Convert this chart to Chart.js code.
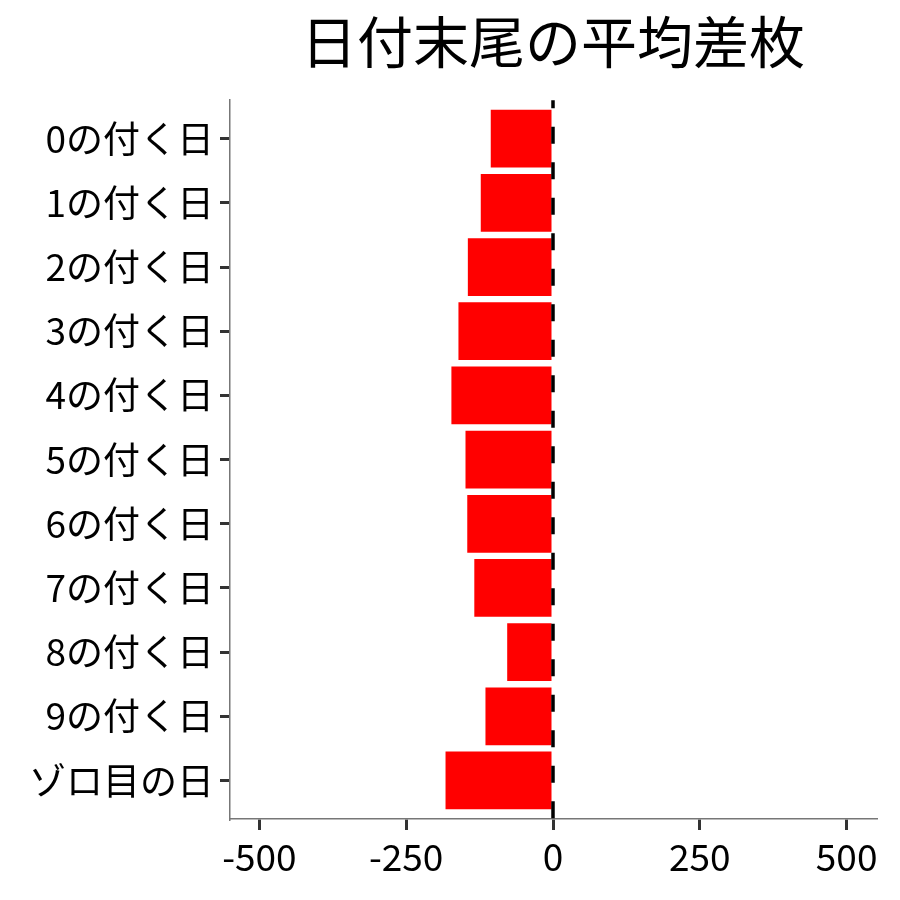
<!DOCTYPE html>
<html>
<head>
<meta charset="utf-8">
<script src="https://cdn.jsdelivr.net/npm/chart.js@4"></script>
<style>
html,body{margin:0;padding:0;background:#fff;}
#wrap{width:900px;height:900px;}
</style>
</head>
<body>
<div id="wrap"><canvas id="c" width="900" height="900"></canvas></div>
<script>
const categories = ["0の付く日","1の付く日","2の付く日","3の付く日","4の付く日","5の付く日","6の付く日","7の付く日","8の付く日","9の付く日","ゾロ目の日"];
const values = [-106, -123, -145, -161, -173, -149, -146, -134, -78, -115, -183];
const xTicks = [-500, -250, 0, 250, 500];
const titleText = "日付末尾の平均差枚";

const FONT = "'Noto Sans CJK JP', 'Noto Sans', sans-serif";

const zeroLine = {
  id: 'zeroLine',
  afterDatasetsDraw(chart) {
    const {ctx, chartArea} = chart;
    const x = chart.scales.x.getPixelForValue(0);
    ctx.save();
    ctx.beginPath();
    ctx.strokeStyle = '#000';
    ctx.lineWidth = 3.5;
    ctx.setLineDash([17, 18.5]);
    ctx.lineDashOffset = 9;
    ctx.moveTo(x, chartArea.top);
    ctx.lineTo(x, chartArea.bottom);
    ctx.stroke();
    ctx.restore();
  }
};

new Chart(document.getElementById('c'), {
  type: 'bar',
  data: {
    datasets: [{
      data: values.map((v, i) => ({x: v, y: i})),
      backgroundColor: '#ff0000',
      borderWidth: 0,
      barPercentage: 0.9,
      categoryPercentage: 1.0
    }]
  },
  plugins: [zeroLine],
  options: {
    indexAxis: 'y',
    responsive: false,
    animation: false,
    devicePixelRatio: 1,
    layout: {padding: {left: 0, right: 24, top: 0, bottom: 0}},
    plugins: {
      legend: {display: false},
      tooltip: {enabled: false},
      title: {
        display: true,
        text: titleText,
        fullSize: false,
        color: '#000',
        font: {family: FONT, size: 56, weight: 'normal', lineHeight: 1.2},
        padding: {top: 8, bottom: 25}
      }
    },
    scales: {
      x: {
        type: 'linear',
        position: 'bottom',
        min: -550,
        max: 550,
        afterBuildTicks: (s) => { s.ticks = xTicks.map(v => ({value: v})); },
        afterFit: (s) => { s.height = 81; },
        grid: {drawOnChartArea: false, tickLength: 11, tickColor: '#333', lineWidth: 3},
        border: {color: '#777', width: 1.5},
        ticks: {color: '#000', padding: 5, font: {family: FONT, size: 37}}
      },
      y: {
        type: 'linear',
        position: 'left',
        min: -0.6,
        max: 10.6,
        reverse: true,
        offset: false,
        afterBuildTicks: (s) => { s.ticks = categories.map((c, i) => ({value: i})); },
        afterFit: (s) => { s.width = 230; },
        grid: {offset: false, drawOnChartArea: false, tickLength: 10, tickColor: '#333', lineWidth: 3},
        border: {color: '#777', width: 1.5},
        ticks: {color: '#000', padding: 6, font: {family: FONT, size: 37},
          callback: (v) => categories[v]}
      }
    }
  }
});
</script>
</body>
</html>
